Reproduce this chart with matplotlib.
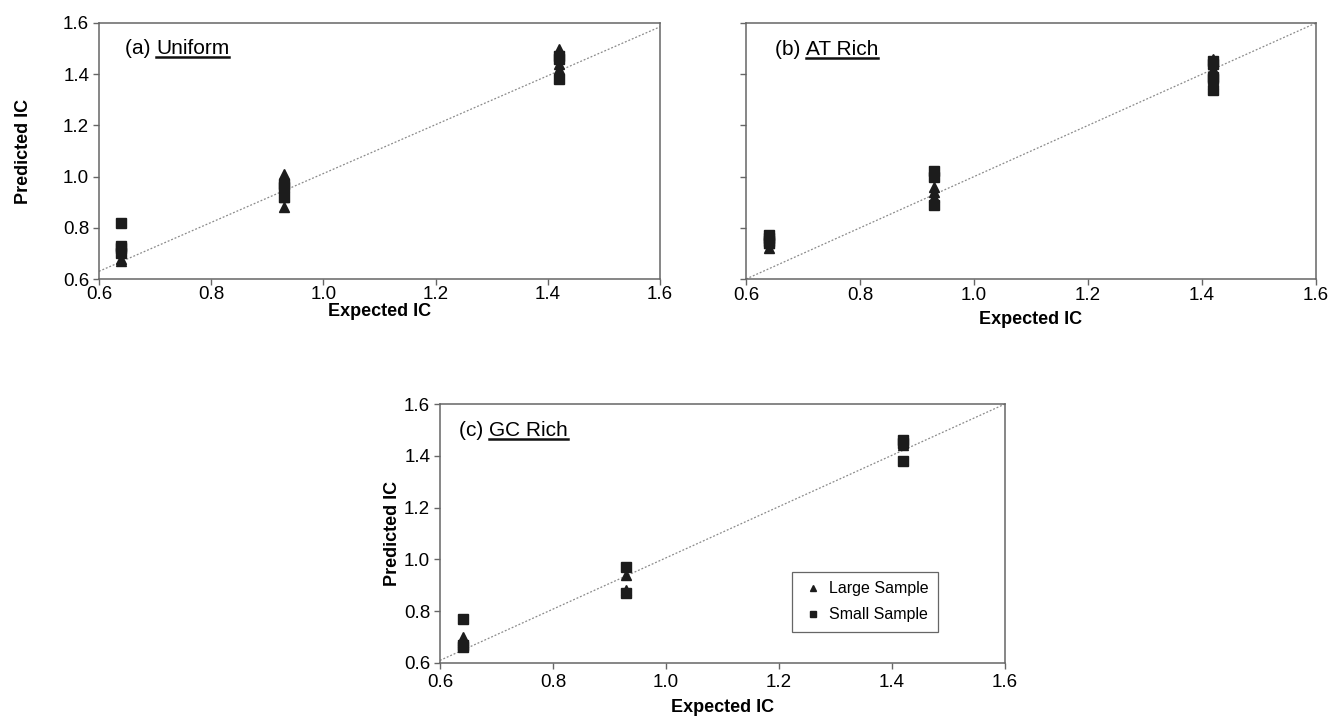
import numpy as np
import matplotlib.pyplot as plt

plt.rcParams['font.family'] = ['Liberation Sans', 'DejaVu Sans']

# expected IC for each of the three motifs
expected_ic = [0.64, 0.93, 1.42]

# predicted IC, one list per expected IC value
uniform_large = [[0.68, 0.67], [1.01, 0.92, 0.88], [1.50, 1.42, 1.44]]
uniform_small = [[0.82, 0.73, 0.72, 0.70], [0.97, 0.96, 0.92], [1.46, 1.47, 1.38]]

at_large = [[0.72, 0.74], [0.96, 0.94, 0.92], [1.46, 1.42, 1.36]]
at_small = [[0.77, 0.76, 0.75, 0.74], [1.02, 1.00, 0.89], [1.45, 1.44, 1.39, 1.38, 1.34]]

gc_large = [[0.70, 0.69, 0.68], [0.94, 0.88], [1.44, 1.45]]
gc_small = [[0.77, 0.67, 0.66], [0.97, 0.87], [1.46, 1.45, 1.38]]

# trend line end points (at x=0.6 and x=1.6)
trend_a = [0.63, 1.585]
trend_b = [0.60, 1.60]
trend_c = [0.61, 1.60]

ticks = [0.6, 0.8, 1.0, 1.2, 1.4, 1.6]
tick_labels = ['0.6', '0.8', '1.0', '1.2', '1.4', '1.6']

fig = plt.figure(figsize=(13.32, 7.23), dpi=100)
ax_a = fig.add_axes([0.0743, 0.6141, 0.4212, 0.3541])
ax_b = fig.add_axes([0.5601, 0.6141, 0.4279, 0.3541])
ax_c = fig.add_axes([0.3303, 0.0830, 0.4242, 0.3582])

mark_col = '#1c1c1c'
spine_col = '#666666'


def flatten(groups):
  xs, ys = [], []
  for x, vals in zip(expected_ic, groups):
    for v in vals:
      xs.append(x)
      ys.append(v)
  return xs, ys


def draw_panel(ax, large, small, trend, tag, name, show_y, xpad, xlpad, ylpad):
  # dotted trend line
  ax.plot([0.6, 1.6], trend, color='#8a8a8a', lw=0.9, ls=(0, (1.5, 1.5)), zorder=1)
  xs, ys = flatten(large)
  ax.plot(xs, ys, ls='none', marker='^', ms=7.5, color=mark_col, mec=mark_col,
          label='Large Sample', zorder=3)
  xs, ys = flatten(small)
  ax.plot(xs, ys, ls='none', marker='s', ms=7, color=mark_col, mec=mark_col,
          label='Small Sample', zorder=3)

  ax.set_xlim(0.6, 1.6)
  ax.set_ylim(0.6, 1.6)
  ax.set_xticks(ticks, tick_labels)
  ax.set_yticks(ticks, tick_labels if show_y else [])
  ax.tick_params(direction='out', length=4, width=1, color=spine_col,
                 labelsize=13.5)
  ax.tick_params(axis='x', pad=xpad)
  ax.tick_params(axis='y', pad=3)
  for s in ax.spines.values():
    s.set_color(spine_col)
    s.set_linewidth(1.1)
  ax.set_xlabel('Expected IC', fontsize=13, fontweight='bold', labelpad=xlpad)
  if show_y:
    ax.set_ylabel('Predicted IC', fontsize=13, fontweight='bold', labelpad=ylpad)

  # panel tag with underlined name
  t1 = ax.text(tag[0], tag[1], name[0] + ' ', transform=ax.transAxes,
               fontsize=15, va='center', ha='left')
  fig.canvas.draw()
  r = fig.canvas.get_renderer()
  bb = t1.get_window_extent(renderer=r)
  inv = ax.transAxes.inverted()
  x1 = inv.transform((bb.x1, bb.y0))[0]
  t2 = ax.text(x1, tag[1], name[1], transform=ax.transAxes,
               fontsize=15, va='center', ha='left')
  bb2 = t2.get_window_extent(renderer=r)
  p0 = inv.transform((bb2.x0, bb2.y0 + 1))
  p1 = inv.transform((bb2.x1, bb2.y0 + 1))
  ax.plot([p0[0], p1[0]], [p0[1], p1[1]], transform=ax.transAxes,
          color='#111111', lw=1.8, clip_on=False)


draw_panel(ax_a, uniform_large, uniform_small, trend_a, (0.046, 0.90),
           ('(a)', 'Uniform'), True, 1, 0, 22)
draw_panel(ax_b, at_large, at_small, trend_b, (0.05, 0.895),
           ('(b)', 'AT Rich'), False, 2, 5, 0)
draw_panel(ax_c, gc_large, gc_small, trend_c, (0.034, 0.896),
           ('(c)', 'GC Rich'), True, 4, 6, 2)

leg = ax_c.legend(loc='lower left', bbox_to_anchor=(0.623, 0.12), fontsize=11.5,
                  markerscale=0.55, handletextpad=0.3, borderpad=0.6,
                  labelspacing=0.7, fancybox=False, framealpha=1,
                  handlelength=1.4, borderaxespad=0)
leg.get_frame().set_edgecolor(spine_col)
leg.get_frame().set_linewidth(0.9)

fig.savefig('out.png', dpi=100)
